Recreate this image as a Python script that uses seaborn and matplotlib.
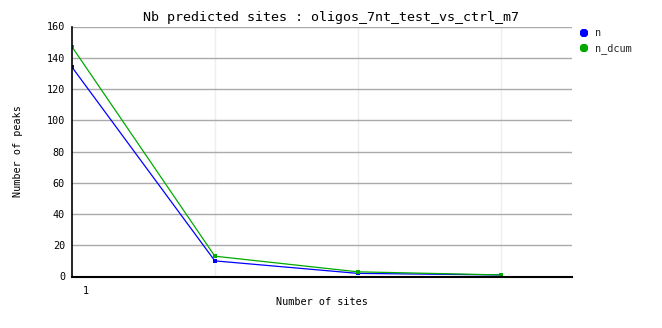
import matplotlib
matplotlib.use("Agg")
import matplotlib.pyplot as plt
import matplotlib.transforms as mtransforms
from matplotlib.lines import Line2D
import seaborn as sns
import pandas as pd

# data
sites = [1, 2, 3, 4]
n_values = [134, 10, 2, 1]
n_dcum_values = [147, 13, 3, 1]
series_names = ["n", "n_dcum"]
series_colors = ["#0000ff", "#00aa00"]
y_ticks = [0, 20, 40, 60, 80, 100, 120, 140, 160]

sns.set_theme(style="white")
plt.rcParams["font.family"] = ["DejaVu Sans Mono", "DejaVu Sans"]

df = pd.DataFrame({
    "sites": sites * 2,
    "value": n_values + n_dcum_values,
    "series": [series_names[0]] * len(sites) + [series_names[1]] * len(sites),
})

fig = plt.figure(figsize=(6.62, 3.28), dpi=100)
ax = fig.add_axes([72 / 662, 1 - 276.5 / 328, 500 / 662, 250 / 328])

sns.lineplot(data=df, x="sites", y="value", hue="series", palette=series_colors,
             marker="s", markersize=3.5, markeredgewidth=0, linewidth=0.9,
             legend=False, ax=ax)

ax.set_xlim(1, 4.5)
ax.set_ylim(0, 160)
ax.set_yticks(y_ticks)
ax.set_xticks([1])
ax.set_xticklabels(["1"])
ax.set_xticks([2, 3, 4], minor=True)
ax.tick_params(axis="both", which="both", length=0, labelsize=7.3, colors="black")
ax.tick_params(axis="x", pad=7)
ax.tick_params(axis="y", pad=5)
offset = mtransforms.ScaledTranslation(14 / 100, 0, fig.dpi_scale_trans)
for lab in ax.get_xticklabels():
    lab.set_transform(lab.get_transform() + offset)

ax.grid(False)
ax.yaxis.grid(True, color="#aaaaaa", linewidth=1.0)
ax.xaxis.grid(True, which="minor", color="#eeeeee", linewidth=1.0)
ax.set_axisbelow(True)

for side in ["top", "right"]:
    ax.spines[side].set_visible(False)
ax.spines["left"].set_color("black")
ax.spines["left"].set_linewidth(1.2)
ax.spines["bottom"].set_color("black")
ax.spines["bottom"].set_linewidth(1.5)

ax.set_xlabel("Number of sites", fontsize=7.3, color="black", va="center")
ax.set_ylabel("Number of peaks", fontsize=7.3, color="black", va="center")
ax.xaxis.set_label_coords(0.5, -(302 - 276.5) / 250)
ax.yaxis.set_label_coords(-(72 - 18) / 500, 0.5)
fig.text(0.5, 1 - 18 / 328, "Nb predicted sites : oligos_7nt_test_vs_ctrl_m7",
         ha="center", va="center", fontsize=9.6, color="black")

handles = [Line2D([], [], linestyle="none", marker="8", markersize=6,
                  color=c, markeredgewidth=0) for c in series_colors]
fig.legend(handles, series_names, loc="upper left",
           bbox_to_anchor=(578 / 662, 1 - 28.5 / 328), frameon=False,
           fontsize=7.3, handletextpad=0.5, labelspacing=0.45,
           handlelength=1.2, borderpad=0, borderaxespad=0)

fig.savefig("out.png", dpi=100)
